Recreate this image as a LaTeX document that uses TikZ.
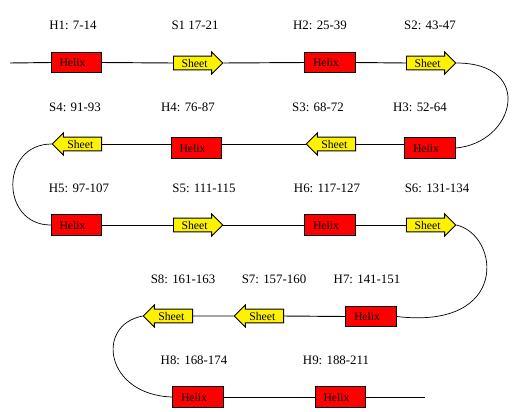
\documentclass[tikz,border=0pt]{standalone}
\usepackage{fontspec}
\setmainfont{Liberation Serif}
\usetikzlibrary{shapes.arrows}
\tikzset{
  helix/.style={rectangle,draw=black,fill=red,line width=.8pt,minimum width=43pt,minimum height=17.5pt,inner xsep=0pt,text width=29pt,align=left,font=\fontsize{10}{11}\selectfont},
  sheet/.style={single arrow,draw=black,fill=yellow,line width=.8pt,minimum height=42pt,single arrow head extend=3.5pt,single arrow tip angle=90,inner ysep=2pt,inner xsep=1pt,text height=7pt,text depth=0pt,font=\fontsize{10}{11}\selectfont,anchor=tail},
  sheetback/.style={sheet,shape border rotate=180},
  backbone/.style={draw=black,line width=.8pt},
  turn/.style={draw=black,line width=.6pt},
  rangelbl/.style={font=\fontsize{11}{13}\selectfont},
}
\begin{document}
\begin{tikzpicture}[x=0.03cm,y=-0.03cm]
  \useasboundingbox (0,0) rectangle (532,411);
  \node[helix] (h1) at (76.5,62.5) {Helix};
  \node[sheet] (s1) at (173,63) {Sheet};
  \node[helix] (h2) at (330,62.5) {Helix};
  \node[sheet] (s2) at (406,63) {Sheet};
  \node[helix] (h3) at (430,148) {Helix};
  \node[sheetback] (s3) at (356,144) {Sheet};
  \node[helix] (h4) at (196.5,148) {Helix};
  \node[sheetback] (s4) at (102,144) {Sheet};
  \node[helix] (h5) at (76.5,225) {Helix};
  \node[sheet] (s5) at (173,225) {Sheet};
  \node[helix] (h6) at (330,225) {Helix};
  \node[sheet] (s6) at (406,225) {Sheet};
  \node[helix] (h7) at (371,316.5) {Helix};
  \node[sheetback] (s7) at (284,316) {Sheet};
  \node[sheetback] (s8) at (193,316) {Sheet};
  \node[helix] (h8) at (198,397) {Helix};
  \node[helix] (h9) at (340.5,397) {Helix};
  \coordinate (nterm) at (10,63);
  \coordinate (cterm) at (425,397);
  \draw[backbone] (nterm) -- (h1.west) (h1.east) -- (s1.tail) (s1.tip) -- (h2.west) (h2.east) -- (s2.tail);
  \draw[backbone] (s3.tail -| h3.west) -- (s3.tail) (s3.tip) -- (s3.tip -| h4.east) (s4.tail -| h4.west) -- (s4.tail);
  \draw[backbone] (h5.east) -- (s5.tail) (s5.tip) -- (h6.west) (h6.east) -- (s6.tail);
  \draw[backbone] (h7.west) -- (s7.tail) (s7.tip) -- (s8.tail);
  \draw[backbone] (h8.east) -- (h9.west) (h9.east) -- (cterm);
  \draw[turn] (s2.tip) .. controls (535,63) and (515,143) .. (h3.east);
  \draw[turn] (s4.tip) .. controls (0,144) and (0,225) .. (h5.west);
  \draw[turn] (s6.tip) .. controls (500,235) and (510,330) .. (h7.east);
  \draw[turn] (s8.tip) .. controls (95,325) and (105,395) .. (h8.west);
  \node[rangelbl] (lh1) at (73,25) {H1: 7-14};
  \node[rangelbl] (ls1) at (195,25) {S1 17-21};
  \node[rangelbl] (lh2) at (320,25) {H2: 25-39};
  \node[rangelbl] (ls2) at (430,25) {S2: 43-47};
  \node[rangelbl] (ls4) at (75,107) {S4: 91-93};
  \node[rangelbl] (lh4) at (188,107) {H4: 76-87};
  \node[rangelbl] (ls3) at (318,107) {S3: 68-72};
  \node[rangelbl] (lh3) at (420,107) {H3: 52-64};
  \node[rangelbl] (lh5) at (79,188) {H5: 97-107};
  \node[rangelbl] (ls5) at (204,188) {S5: 111-115};
  \node[rangelbl] (lh6) at (327,188) {H6: 117-127};
  \node[rangelbl] (ls6) at (437,188) {S6: 131-134};
  \node[rangelbl] (ls8) at (183,279) {S8: 161-163};
  \node[rangelbl] (ls7) at (274,279) {S7: 157-160};
  \node[rangelbl] (lh7) at (367,279) {H7: 141-151};
  \node[rangelbl] (lh8) at (194,360) {H8: 168-174};
  \node[rangelbl] (lh9) at (336,360) {H9: 188-211};
\end{tikzpicture}
\end{document}
